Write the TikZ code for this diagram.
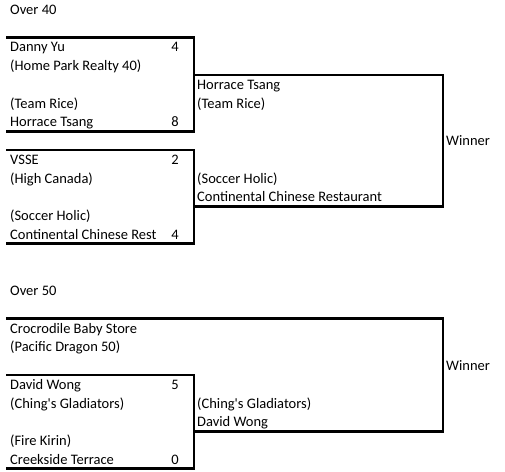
\documentclass[tikz,border=0pt]{standalone}
\usepackage{fontspec}
\setmainfont{Carlito}
\begin{document}
\begin{tikzpicture}[x=1pt, y=-1pt, font=\fontsize{14.5}{16}\selectfont,
        team/.style={anchor=base west, inner sep=0pt},
        score/.style={anchor=base east, inner sep=0pt},
        bracket/.style={line width=2.6pt, line cap=rect}]
      \useasboundingbox (0,0) rectangle (505,471);
      % over 40
      \node[team]  (title40) at (10,14.25)   {Over 40};
      \node[team]  (dannyyu) at (10,51.75)   {Danny Yu};
      \node[score] (sdanny)  at (179,51.75)  {4};
      \node[team]  (homepark) at (10,70.5)   {(Home Park Realty 40)};
      \node[team]  (teamrice) at (10,108)    {(Team Rice)};
      \node[team]  (horrace) at (10,126.75)  {Horrace Tsang};
      \node[score] (shorrace) at (179,126.75) {8};
      \node[team]  (vsse)    at (10,164.25)  {VSSE};
      \node[score] (svsse)   at (179,164.25) {2};
      \node[team]  (highcan) at (10,183)     {(High Canada)};
      \node[team]  (soccer)  at (10,220.5)   {(Soccer Holic)};
      \node[team]  (contin)  at (10,239.25)  {Continental Chinese Rest};
      \node[score] (scontin) at (179,239.25) {4};
      \node[team]  (horrace2) at (197,89.25) {Horrace Tsang};
      \node[team]  (teamrice2) at (197,108)  {(Team Rice)};
      \node[team]  (soccer2) at (197,183)    {(Soccer Holic)};
      \node[team]  (contin2) at (197,201.75) {Continental Chinese Restaurant};
      \node[team]  (win40)   at (446,145.5)  {Winner};
      \draw[bracket] (7,37.5) -| (194,131.25) -- (7,131.25);
      \draw[bracket] (7,150) -| (194,243.75) -- (7,243.75);
      \draw[bracket] (194,75) -| (443,206.25) -- (194,206.25);
      % over 50
      \node[team]  (title50) at (10,295.5)   {Over 50};
      \node[team]  (crocbaby) at (10,333)    {Crocrodile Baby Store};
      \node[team]  (pacific) at (10,351.75)  {(Pacific Dragon 50)};
      \node[team]  (davidwong) at (10,389.25) {David Wong};
      \node[score] (sdavid)  at (179,389.25) {5};
      \node[team]  (chings)  at (10,408)     {(Ching\textquotesingle s Gladiators)};
      \node[team]  (firekirin) at (10,445.5) {(Fire Kirin)};
      \node[team]  (creekside) at (10,464.25) {Creekside Terrace};
      \node[score] (screek)  at (179,464.25) {0};
      \node[team]  (chings2) at (197,408)    {(Ching\textquotesingle s Gladiators)};
      \node[team]  (davidwong2) at (197,426.75) {David Wong};
      \node[team]  (win50)   at (446,370.5)  {Winner};
      \draw[bracket] (7,318.75) -| (443,431.25) -- (194,431.25);
      \draw[bracket] (7,375) -| (194,468.75) -- (7,468.75);
    \end{tikzpicture}
\end{document}
